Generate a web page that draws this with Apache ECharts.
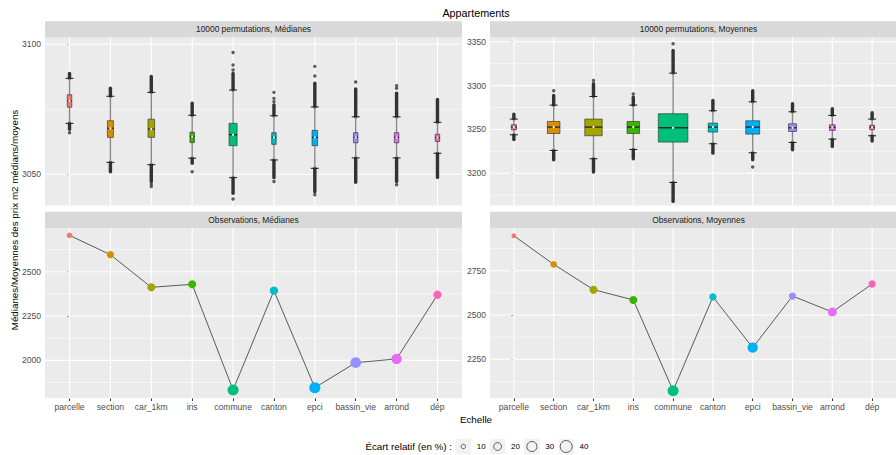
<!DOCTYPE html>
<html><head><meta charset="utf-8">
<script src="https://cdn.jsdelivr.net/npm/echarts@6/dist/echarts.min.js"></script>
<style>html,body{margin:0;padding:0;background:#fff}#c{width:896px;height:455px}</style>
</head><body><div id="c"></div>
<script>
// ---------- DATA ----------
const categories = ['parcelle','section','car_1km','iris','commune','canton','epci','bassin_vie','arrond','dép'];
const palette = ['#F8766D','#D89000','#A3A500','#39B600','#00BF7D','#00BFC4','#00B0F6','#9590FF','#E76BF3','#FF62BC'];

// 10000 permutations, Médianes (box stats)
const permMedLowW  = [3069.6, 3054.6, 3053.7, 3056.2, 3048.7, 3055.5, 3052.3, 3056.3, 3056.3, 3058.1];
const permMedQ1    = [3075.8, 3064.2, 3064.2, 3062.2, 3061.0, 3061.5, 3061.0, 3062.1, 3062.1, 3062.6];
const permMedMed   = [3078.2, 3067.7, 3067.4, 3064.5, 3065.2, 3064.2, 3064.2, 3064.2, 3064.2, 3064.1];
const permMedQ3    = [3080.6, 3070.6, 3071.2, 3066.2, 3069.6, 3066.0, 3066.9, 3066.0, 3066.0, 3065.4];
const permMedUpW   = [3086.9, 3080.0, 3081.5, 3072.7, 3082.4, 3072.5, 3075.9, 3072.1, 3072.1, 3070.0];
const permMedHiOut = [3088.8, 3083.1, 3087.6, 3077.3, 3088.8, 3076.7, 3085.0, 3082.8, 3081.2, 3078.8];
const permMedLoOut = [3067.3, 3051.0, 3047.2, 3054.2, 3042.7, 3048.7, 3043.3, 3046.9, 3047.2, 3048.8];
const permMedIsolated = [[0,3066.0],[2,3046.2],[2,3045.3],[3,3051.0],[4,3090.1],[4,3092.0],[4,3096.8],[4,3040.5],
  [5,3077.9],[5,3079.2],[5,3081.5],[5,3047.2],[6,3087.8],[6,3091.5],[6,3042.1],[7,3085.5],[8,3083.1],[8,3084.1],[8,3046.0]];

// 10000 permutations, Moyennes (box stats)
const permMoyLowW  = [3243.9, 3226.1, 3216.6, 3227.2, 3189.6, 3233.7, 3223.4, 3235.2, 3239.0, 3242.8];
const permMoyQ1    = [3249.6, 3245.4, 3242.8, 3245.4, 3235.6, 3247.0, 3244.7, 3247.7, 3248.9, 3249.6];
const permMoyMed   = [3252.7, 3252.7, 3252.7, 3252.7, 3251.9, 3252.7, 3252.7, 3251.9, 3252.3, 3252.3];
const permMoyQ3    = [3255.3, 3259.1, 3261.8, 3259.1, 3267.9, 3257.2, 3259.9, 3256.5, 3255.3, 3254.9];
const permMoyUpW   = [3261.8, 3277.7, 3287.6, 3277.7, 3314.2, 3271.3, 3281.5, 3270.1, 3266.0, 3261.8];
const permMoyHiOut = [3267.5, 3288.7, 3302.0, 3286.8, 3340.0, 3283.0, 3294.1, 3279.2, 3273.5, 3269.0];
const permMoyLoOut = [3238.6, 3215.4, 3201.4, 3216.6, 3168.0, 3223.0, 3215.4, 3226.8, 3230.6, 3236.7];
const permMoyIsolated = [[1,3294.1],[2,3305.8],[3,3290.3],[4,3347.6],[6,3207.1]];

// Observations
const obsMed = [2705, 2596, 2412, 2429, 1833, 2393, 1846, 1987, 2008, 2370];
const ecartMed = [13, 18, 21, 21, 35, 22, 35, 33, 31, 22];
const obsMoy = [2947, 2786, 2643, 2585, 2073, 2602, 2316, 2607, 2517, 2675];
const ecartMoy = [11, 16, 21, 21, 35, 18, 31, 18, 24, 18];

// Axis ticks
const ticksTL = [3050, 3100], minorTL = [3075];
const ticksTR = [3200, 3250, 3300, 3350], minorTR = [3175, 3225, 3275, 3325];
const ticksBL = [2000, 2250, 2500], minorBL = [1875, 2125, 2375, 2625];
const ticksBR = [2250, 2500, 2750], minorBR = [2125, 2375, 2625, 2875];
const legendValues = [10, 20, 30, 40];

// ---------- LAYOUT ----------
const FONT = '"Liberation Sans", Arial, sans-serif';
const LX = 45, RX = 490, W = 417;
const TOPY = 37.5, TOPH = 168, BOTY = 228, BOTH = 170.3, STRIPH = 16.2;
const yRanges = [[3038.0, 3102.6], [3163.3, 3354.8], [1786, 2746.6], [2030, 2991]];
const idx = categories.map((_, i) => i);
const sizeFn = v => Math.sqrt(Math.max(4, 4.1 * v - 21));

const grids = [
  {left: LX, top: TOPY, width: W, height: TOPH},
  {left: RX, top: TOPY, width: W, height: TOPH},
  {left: LX, top: BOTY, width: W, height: BOTH},
  {left: RX, top: BOTY, width: W, height: BOTH}
].map(g => Object.assign(g, {show: true, backgroundColor: '#EBEBEB', borderWidth: 0, containLabel: false}));

const majors = [ticksTL, ticksTR, ticksBL, ticksBR];
const minors = [minorTL, minorTR, minorBL, minorBR];

const xAxes = [0,1,2,3].map(g => ({
  type: 'value', gridIndex: g, min: -0.6, max: 9.6,
  axisLine: {show: false}, splitLine: {show: false},
  axisTick: {show: g >= 2, customValues: idx, length: 2.7, lineStyle: {color: '#333', width: 1}},
  axisLabel: {show: g >= 2, customValues: idx, formatter: v => categories[Math.round(v)],
    fontFamily: FONT, fontSize: 8.6, color: '#4D4D4D', margin: 4}
}));
const yAxes = [0,1,2,3].map(g => ({
  type: 'value', gridIndex: g, min: yRanges[g][0], max: yRanges[g][1],
  axisLine: {show: false}, splitLine: {show: false},
  axisTick: {show: true, customValues: majors[g], length: 2.7, lineStyle: {color: '#333', width: 1}},
  axisLabel: {customValues: majors[g], formatter: v => String(Math.round(v)),
    fontFamily: FONT, fontSize: 8.6, color: '#4D4D4D', margin: 4}
}));

function gridSeries(g) {
  const data = majors[g].map(v => [0, v]).concat(minors[g].map(v => [1, v])).concat(idx.map(i => [2, i]));
  const ymin = yRanges[g][0];
  return {
    type: 'custom', xAxisIndex: g, yAxisIndex: g, z: 1, silent: true, animation: false,
    data: data,
    renderItem: (params, api) => {
      const cs = params.coordSys;
      const k = api.value(0), v = api.value(1);
      if (k < 2) {
        const y = api.coord([0, v])[1];
        return {type: 'line', shape: {x1: cs.x, y1: y, x2: cs.x + cs.width, y2: y},
          style: {stroke: '#FFFFFF', lineWidth: k === 0 ? 1.1 : 0.55}};
      }
      const x = api.coord([v, ymin])[0];
      return {type: 'line', shape: {x1: x, y1: cs.y, x2: x, y2: cs.y + cs.height},
        style: {stroke: '#FFFFFF', lineWidth: 1.1}};
    }
  };
}

function boxSeries(g, lowW, q1, med, q3, upW, hiOut, loOut) {
  return {
    type: 'custom', xAxisIndex: g, yAxisIndex: g, z: 3, silent: true, animation: false,
    encode: {x: 0, y: [1,2,3,4,5,6,7]},
    data: idx.map(i => [i, lowW[i], q1[i], med[i], q3[i], upW[i], hiOut[i], loOut[i]]),
    renderItem: (params, api) => {
      const i = api.value(0);
      const x = api.coord([i, api.value(3)])[0];
      const py = v => api.coord([i, v])[1];
      const unit = api.size([1, 0])[0];
      const iqr = api.value(4) - api.value(2);
      const bw = Math.max(4.5, iqr * 0.023 * unit);
      const yLow = py(api.value(1)), yQ1 = py(api.value(2)), yMed = py(api.value(3)),
            yQ3 = py(api.value(4)), yUp = py(api.value(5)), yHi = py(api.value(6)), yLo = py(api.value(7));
      const cap = 4;
      return {type: 'group', children: [
        {type: 'line', shape: {x1: x, y1: yUp, x2: x, y2: yHi}, style: {stroke: '#333', lineWidth: 3.4, lineCap: 'round'}},
        {type: 'line', shape: {x1: x, y1: yLow, x2: x, y2: yLo}, style: {stroke: '#333', lineWidth: 3.4, lineCap: 'round'}},
        {type: 'line', shape: {x1: x, y1: yLow, x2: x, y2: yUp}, style: {stroke: '#8A8A8A', lineWidth: 1.4}},
        {type: 'line', shape: {x1: x - cap, y1: yUp, x2: x + cap, y2: yUp}, style: {stroke: '#1A1A1A', lineWidth: 1}},
        {type: 'line', shape: {x1: x - cap, y1: yLow, x2: x + cap, y2: yLow}, style: {stroke: '#1A1A1A', lineWidth: 1}},
        {type: 'rect', shape: {x: x - bw / 2, y: yQ3, width: bw, height: yQ1 - yQ3},
          style: {fill: palette[i], stroke: 'rgba(40,40,40,0.6)', lineWidth: 1}},
        {type: 'line', shape: {x1: x - bw / 2, y1: yMed, x2: x + bw / 2, y2: yMed}, style: {stroke: '#1A1A1A', lineWidth: 1.2}},
        {type: 'circle', shape: {cx: x, cy: yMed, r: 1.1}, style: {fill: '#FFFFFF'}}
      ]};
    }
  };
}

function outlierSeries(g, pts) {
  return {type: 'scatter', xAxisIndex: g, yAxisIndex: g, z: 3, silent: true, animation: false,
    symbolSize: 3.4, itemStyle: {color: '#333'}, data: pts};
}

function obsSeries(g, vals, ecart) {
  const d = vals.map((v, i) => [i, v]);
  return [
    {type: 'line', xAxisIndex: g, yAxisIndex: g, z: 2, silent: true, animation: false,
      symbol: 'none', lineStyle: {color: '#333', width: 0.8}, data: d},
    {type: 'scatter', xAxisIndex: g, yAxisIndex: g, z: 3, silent: true, animation: false,
      symbolSize: (val, p) => sizeFn(ecart[p.dataIndex]),
      itemStyle: {color: p => palette[p.dataIndex], opacity: 1}, data: d}
  ];
}

function txt(text, x, y, size, color, align, extra) {
  return Object.assign({type: 'text', x: x, y: y, silent: true,
    style: {text: text, x: 0, y: 0, fill: color, fontSize: size, fontFamily: FONT,
      align: align || 'center', verticalAlign: 'middle', textAlign: align || 'center', textVerticalAlign: 'middle'}}, extra || {});
}

const stripDefs = [
  [LX, TOPY - STRIPH, '10000 permutations, Médianes'],
  [RX, TOPY - STRIPH, '10000 permutations, Moyennes'],
  [LX, BOTY - STRIPH, 'Observations, Médianes'],
  [RX, BOTY - STRIPH, 'Observations, Moyennes']
];
const graphics = [];
stripDefs.forEach(s => {
  graphics.push({type: 'rect', silent: true, shape: {x: s[0], y: s[1], width: W, height: STRIPH}, style: {fill: '#D9D9D9'}});
  graphics.push(txt(s[2], s[0] + W / 2, s[1] + STRIPH / 2, 8.4, '#1A1A1A'));
});
graphics.push(txt('Appartements', 476, 12.5, 10.8, '#000'));
graphics.push(txt('Echelle', 476, 419.5, 9.8, '#000'));
graphics.push(txt('Médianes/Moyennes des prix m2 médians/moyens', 14.5, 220, 9.8, '#000', 'center', {rotation: Math.PI / 2}));
graphics.push(txt('Écart relatif (en %) :', 452, 446.5, 9.8, '#000', 'right'));
legendValues.forEach((v, k) => {
  const cx = 463.3 + 34.3 * k;
  graphics.push({type: 'rect', silent: true, shape: {x: cx - 7.75, y: 438.75, width: 15.5, height: 15.5}, style: {fill: '#F2F2F2'}});
  graphics.push({type: 'circle', silent: true, shape: {cx: cx, cy: 446.5, r: sizeFn(v) / 2}, style: {fill: 'none', stroke: '#333', lineWidth: 0.8}});
  graphics.push(txt(String(v), cx + 13.4, 446.5, 8, '#000', 'left'));
});

const series = [gridSeries(0), gridSeries(1), gridSeries(2), gridSeries(3),
  boxSeries(0, permMedLowW, permMedQ1, permMedMed, permMedQ3, permMedUpW, permMedHiOut, permMedLoOut),
  outlierSeries(0, permMedIsolated),
  boxSeries(1, permMoyLowW, permMoyQ1, permMoyMed, permMoyQ3, permMoyUpW, permMoyHiOut, permMoyLoOut),
  outlierSeries(1, permMoyIsolated)
].concat(obsSeries(2, obsMed, ecartMed), obsSeries(3, obsMoy, ecartMoy));

const chart = echarts.init(document.getElementById('c'), null, {renderer: 'svg', width: 896, height: 455});
chart.setOption({
  backgroundColor: '#FFFFFF',
  animation: false,
  grid: grids, xAxis: xAxes, yAxis: yAxes,
  series: series,
  graphic: graphics
});
</script></body></html>
